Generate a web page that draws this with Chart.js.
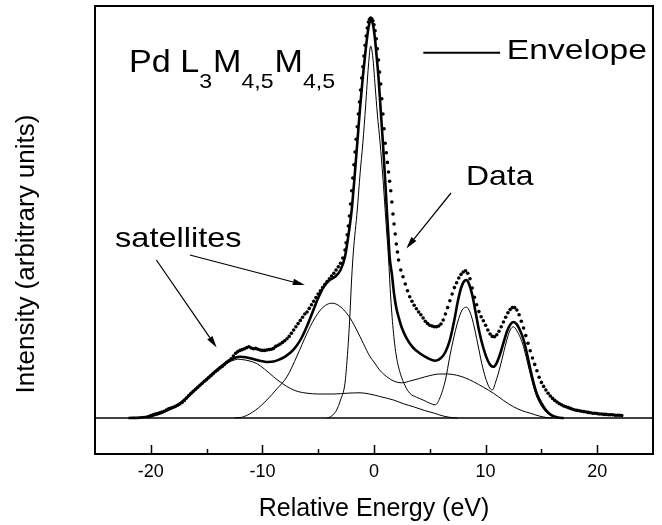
<!DOCTYPE html>
<html><head><meta charset="utf-8">
<script src="https://cdn.jsdelivr.net/npm/chart.js@4.4.1/dist/chart.umd.min.js"></script>
<style>html,body{margin:0;padding:0;background:#fff;}canvas{display:block;}</style>
</head><body>
<canvas id="c" width="662" height="525"></canvas>
<script>
// ---------- data ----------
const dataEnergy = [-20.2,-20.0,-19.8,-19.6,-19.4,-19.2,-19.0,-18.8,-18.6,-18.4,-18.2,-18.0,-17.8,-17.6,-17.4,-17.2,-17.0,-16.8,-16.6,-16.4,-16.2,-16.0,-15.8,-15.6,-15.4,-15.2,-15.0,-14.8,-14.6,-14.4,-14.2,-14.0,-13.8,-13.6,-13.4,-13.2,-13.0,-12.8,-12.6,-12.4,-12.2,-12.0,-11.8,-11.6,-11.4,-11.2,-11.0,-10.8,-10.6,-10.4,-10.2,-10.0,-9.8,-9.6,-9.4,-9.2,-9.0,-8.8,-8.6,-8.4,-8.2,-8.0,-7.8,-7.6,-7.4,-7.2,-7.0,-6.8,-6.6,-6.4,-6.2,-6.0,-5.8,-5.6,-5.4,-5.2,-5.0,-4.8,-4.6,-4.4,-4.2,-4.0,-3.8,-3.6,-3.4,-3.2,-3.0,-2.8,-2.6,-2.5,-2.4,-2.3,-2.2,-2.1,-2.0,-1.9,-1.8,-1.7,-1.6,-1.5,-1.4,-1.3,-1.2,-1.1,-1.0,-0.9,-0.8,-0.7,-0.6,-0.5,-0.4,-0.3,-0.2,-0.1,0.0,0.1,0.2,0.3,0.4,0.5,0.6,0.7,0.8,0.9,1.0,1.1,1.2,1.3,1.4,1.5,1.6,1.7,1.8,1.9,2.0,2.1,2.2,2.4,2.6,2.8,3.0,3.2,3.4,3.6,3.8,4.0,4.2,4.4,4.6,4.8,5.0,5.2,5.4,5.6,5.8,6.0,6.2,6.4,6.6,6.8,7.0,7.2,7.4,7.6,7.8,8.0,8.2,8.4,8.6,8.8,9.0,9.2,9.4,9.6,9.8,10.0,10.2,10.4,10.6,10.8,11.0,11.2,11.4,11.6,11.8,12.0,12.2,12.4,12.6,12.8,13.0,13.2,13.4,13.6,13.8,14.0,14.2,14.4,14.6,14.8,15.0,15.2,15.4,15.6,15.8,16.0,16.2,16.4,16.6,16.8,17.0,17.2,17.4,17.6,17.8,18.0,18.2,18.4,18.6,18.8,19.0,19.2,19.4,19.6,19.8,20.0,20.2,20.4,20.6,20.8,21.0,21.2,21.4,21.6,21.8,22.0,22.2];
const dataIntensity = [0.3,0.6,0.8,1.0,1.1,1.3,1.5,1.7,2.0,2.3,2.5,2.7,2.9,3.2,3.5,3.9,4.4,5.0,5.6,6.2,6.7,7.2,7.7,8.2,8.7,9.2,9.6,10.1,10.6,11.1,11.6,12.0,12.5,12.9,13.4,13.9,14.3,14.8,15.5,16.2,16.6,16.9,17.1,17.3,17.6,17.8,17.5,17.3,17.4,17.2,17.0,16.9,16.9,17.0,17.1,17.2,17.4,17.9,18.2,18.5,18.9,19.3,19.8,20.4,21.2,22.0,22.8,23.6,24.4,25.2,26.0,26.5,27.4,28.3,29.2,30.1,31.0,31.8,32.6,33.4,34.1,34.8,35.5,36.2,37.0,37.8,38.7,40.0,42.0,43.8,45.8,48.0,50.5,53.5,56.8,60.0,63.3,66.5,69.7,72.8,76.0,79.0,82.0,85.0,87.8,90.5,93.2,95.5,97.5,99.0,99.7,100.0,99.8,99.3,98.3,96.8,94.8,92.3,89.5,86.5,83.5,79.8,76.0,72.3,68.7,66.3,63.9,61.5,59.2,56.8,54.0,51.0,48.5,46.0,43.5,41.5,39.5,37.0,35.3,33.5,31.8,30.3,29.2,28.2,27.3,26.5,25.8,25.0,24.2,23.6,23.2,23.0,22.8,22.8,23.0,23.5,24.5,26.0,27.6,29.3,31.0,32.6,33.8,35.0,35.9,36.5,36.8,36.2,34.8,32.5,30.2,28.3,26.6,25.3,24.3,23.2,22.0,21.0,20.4,20.3,20.8,21.7,22.8,24.0,25.2,26.3,27.1,27.6,27.6,27.0,25.8,24.2,22.5,20.6,18.7,16.8,15.0,13.4,11.8,10.2,8.9,7.9,7.0,6.2,5.5,4.9,4.4,4.0,3.6,3.3,3.0,2.8,2.6,2.4,2.2,2.0,1.9,1.8,1.7,1.6,1.5,1.4,1.3,1.2,1.2,1.1,1.0,1.0,0.9,0.9,0.8,0.8,0.8,0.7,0.7,0.7,0.6];

const envelopeEnergy = [-22,-21,-20,-19.5,-19,-18.5,-18,-17.5,-17,-16.5,-16,-15.5,-15,-14.5,-14,-13.5,-13,-12.5,-12,-11.5,-11,-10.5,-10,-9.5,-9,-8.5,-8,-7.5,-7,-6.5,-6,-5.5,-5,-4.5,-4,-3.5,-3,-2.6,-2.3,-2,-1.75,-1.5,-1.25,-1,-0.75,-0.5,-0.3,-0.1,0.1,0.25,0.4,0.6,0.8,1.0,1.15,1.3,1.4,1.6,1.8,2.0,2.2,2.5,2.95,3.5,4.1,4.8,5.5,6.0,6.4,6.8,7.2,7.5,7.8,8.1,8.3,8.5,8.8,9.1,9.4,9.8,10.2,10.5,10.7,11.0,11.3,11.6,11.9,12.2,12.5,12.8,13.1,13.4,13.7,14.0,14.3,14.6,15.0,15.4,15.9,16.5,17];
const envelopeIntensity = [0,0.1,0.5,0.9,1.3,2.0,2.6,3.4,4.5,5.8,7.1,8.4,9.7,11.0,12.2,13.3,14.3,15.0,15.3,15.2,14.9,14.5,14.2,14.0,14.1,14.6,15.3,16.3,17.8,20.0,23.0,26.5,30.0,32.8,34.4,35.3,37.0,40.3,45.5,52,60,68.7,77.5,85.3,92,97.5,99.5,98.5,94.5,90,85.3,77,68.7,59.5,52,45,40.3,36,31,27.5,25.3,22.5,19.8,17.6,16.2,15.0,14.3,15.0,16.5,19.5,24.5,29.0,32.5,34.3,34.5,33.6,30.8,26.5,22.0,17.5,14.3,13.0,12.8,13.8,16.0,18.8,21.5,23.3,24.0,23.4,21.8,19.6,16.2,12.3,8.8,6.0,3.7,2.0,0.7,0.1,0];

const mainEnergy = [-4.2,-3.9,-3.6,-3.35,-3.0,-2.6,-2.4,-2.2,-2.0,-1.85,-1.5,-1.25,-1.0,-0.75,-0.5,-0.3,-0.1,0.1,0.3,0.55,0.8,1.0,1.15,1.3,1.5,1.75,2.0,2.35,2.8,3.2,3.8,4.4,5.0,5.5,5.9,6.4,6.8,7.1,7.5,7.9,8.3,8.6,8.9,9.3,9.65,10.0,10.3,10.6,10.9,11.3,11.6,11.9,12.2,12.5,12.8,13.1,13.4,13.7,14.0,14.3,14.6,15.0,15.4,15.9,16.5];
const mainIntensity = [0,0.3,1.0,2.0,4.5,8.7,15,23.5,35,41.5,52,61,68.7,78,88,93,90,83,76,68.7,60,52,46,40,30,21.2,15.5,11.2,8.0,6.2,5.2,4.5,3.7,3.3,5.0,9.5,15.5,19.5,24.0,27.0,27.7,26.5,23.7,18.5,13.7,10.0,7.8,7.0,9.0,12.8,16.2,19.5,22.0,22.8,21.8,20.2,17.8,14.5,11.0,7.8,5.2,3.0,1.5,0.5,0];

const satAEnergy = [-12.5,-11.7,-10.6,-9.6,-8.7,-7.8,-6.9,-6.0,-5.4,-4.8,-4.2,-3.75,-3.2,-2.7,-2.1,-1.55,-0.95,-0.35,0.0,0.5,1.15,1.8,2.5,3.3,4.1,5.0,5.9,6.6,7.4,8.2,8.9,9.8,10.7,11.6,12.5,13.3,14.0,14.8,15.5,16];
const satAIntensity = [0,0.3,2.0,4.5,7.3,10.3,15.5,21.2,24.5,27.0,28.4,28.7,28.2,27.0,24.8,22.0,18.6,15.3,14.0,12.0,10.3,9.2,8.8,9.3,9.9,10.6,11.0,11.0,10.7,10.0,9.1,7.7,6.2,4.4,2.8,1.8,1.2,0.5,0.1,0];

const satBEnergy = [-22,-21,-20,-19,-18.5,-18,-17.5,-17,-16.5,-16,-15.5,-15,-14.5,-14,-13.5,-13,-12.5,-12.2,-11.8,-11.2,-10.5,-9.8,-9.0,-8.2,-7.5,-6.8,-6.0,-5.0,-3.6,-2.4,-1.25,-0.4,0.5,1.2,1.75,2.6,3.55,4.5,5.4,6.2,7.1,7.5];
const satBIntensity = [0,0.1,0.5,1.3,2.0,2.6,3.4,4.5,5.8,7.1,8.4,9.7,11.0,12.2,13.2,14.0,14.5,14.7,14.6,14.3,13.6,12.2,10.3,8.6,7.4,6.6,6.2,6.0,6.0,6.2,6.3,6.0,5.4,4.9,4.5,3.6,2.8,1.9,1.2,0.5,0.05,0];

const xMajorTicks = [-20, -10, 0, 10, 20];
const xMinorTicks = [-15, -5, 5, 15];

const xTitle = 'Relative Energy (eV)';
const yTitle = 'Intensity (arbitrary units)';
const legendLabel = 'Envelope';

// annotation texts (positions in data units)
const plotTitleParts = [['Pd L', false], ['3', true], ['M', false], ['4,5', true], ['M', false], ['4,5', true]];
const plotTitleAt = {x: -21.95, y: 86.6, subDrop: 4.2};
const labelData = {text: 'Data', x: 8.25, y: 58.25};
const labelSat = {text: 'satellites', x: -23.2, y: 42.8};
const legendAt = {x1: 4.42, x2: 11.3, y: 91.3, tx: 11.9, ty: 89.7};
const arrows = [
  {from: [6.9, 56.25], to: [2.9, 42.4]},
  {from: [-16.5, 40.75], to: [-6.2, 33.25]},
  {from: [-19.5, 39.5], to: [-14.1, 17.6]}
];

// ---------- chart ----------
const FAMILY = "'Liberation Sans', Arial, Helvetica, sans-serif";
const pts = (xs, ys) => xs.map((x, i) => ({x: x, y: ys[i]}));

function stretchedText(ctx, text, px, py, size, sx) {
  ctx.save();
  ctx.font = size + 'px ' + FAMILY;
  ctx.textAlign = 'left';
  ctx.textBaseline = 'alphabetic';
  ctx.translate(px, py);
  ctx.scale(sx, 1);
  ctx.fillText(text, 0, 0);
  const w = ctx.measureText(text).width * sx;
  ctx.restore();
  return w;
}

const framePlugin = {
  id: 'frame',
  beforeDatasetsDraw(chart) {
    const {ctx, chartArea: a, scales: {x, y}} = chart;
    ctx.save();
    ctx.strokeStyle = '#000';
    ctx.lineWidth = 1.6;
    const y0 = y.getPixelForValue(0);
    ctx.beginPath(); ctx.moveTo(a.left, y0); ctx.lineTo(a.right, y0); ctx.stroke();
    ctx.restore();
  },
  afterDatasetsDraw(chart) {
    const {ctx, chartArea: a, scales: {x, y}} = chart;
    ctx.save();
    ctx.strokeStyle = '#000';
    ctx.fillStyle = '#000';
    // frame
    ctx.lineWidth = 2;
    ctx.strokeRect(a.left, a.top, a.right - a.left, a.bottom - a.top);
    // ticks (inward)
    ctx.lineWidth = 1.5;
    xMajorTicks.forEach(v => {
      const px = Math.round(x.getPixelForValue(v)) + 0.5;
      ctx.beginPath(); ctx.moveTo(px, a.bottom); ctx.lineTo(px, a.bottom - 9); ctx.stroke();
    });
    xMinorTicks.forEach(v => {
      const px = Math.round(x.getPixelForValue(v)) + 0.5;
      ctx.beginPath(); ctx.moveTo(px, a.bottom); ctx.lineTo(px, a.bottom - 5); ctx.stroke();
    });
    // arrows
    ctx.lineWidth = 1.2;
    arrows.forEach(ar => {
      const x1 = x.getPixelForValue(ar.from[0]), y1 = y.getPixelForValue(ar.from[1]);
      const x2 = x.getPixelForValue(ar.to[0]), y2 = y.getPixelForValue(ar.to[1]);
      const ang = Math.atan2(y2 - y1, x2 - x1);
      const L = 12, W = 3.2;
      const bx = x2 - L * Math.cos(ang), by = y2 - L * Math.sin(ang);
      ctx.beginPath(); ctx.moveTo(x1, y1); ctx.lineTo(bx, by); ctx.stroke();
      ctx.beginPath();
      ctx.moveTo(x2, y2);
      ctx.lineTo(bx + W * Math.sin(ang), by - W * Math.cos(ang));
      ctx.lineTo(bx - W * Math.sin(ang), by + W * Math.cos(ang));
      ctx.closePath(); ctx.fill();
    });
    // legend
    ctx.lineWidth = 2;
    const ly = y.getPixelForValue(legendAt.y);
    ctx.beginPath(); ctx.moveTo(x.getPixelForValue(legendAt.x1), ly); ctx.lineTo(x.getPixelForValue(legendAt.x2), ly); ctx.stroke();
    stretchedText(ctx, legendLabel, x.getPixelForValue(legendAt.tx), y.getPixelForValue(legendAt.ty), 28, 1.2);
    // labels
    stretchedText(ctx, labelData.text, x.getPixelForValue(labelData.x), y.getPixelForValue(labelData.y), 28, 1.14);
    stretchedText(ctx, labelSat.text, x.getPixelForValue(labelSat.x), y.getPixelForValue(labelSat.y), 28, 1.16);
    // plot title with subscripts
    let px = x.getPixelForValue(plotTitleAt.x);
    const base = y.getPixelForValue(plotTitleAt.y);
    const subBase = y.getPixelForValue(plotTitleAt.y - plotTitleAt.subDrop);
    plotTitleParts.forEach(([t, sub]) => {
      px += stretchedText(ctx, t, px, sub ? subBase : base, sub ? 21 : 31, 1.1) + (sub ? 1 : 0);
    });
    // y axis title
    ctx.font = '26px ' + FAMILY;
    ctx.textAlign = 'center';
    ctx.textBaseline = 'alphabetic';
    ctx.translate(33.5, (a.top + a.bottom) / 2 + 24);
    ctx.rotate(-Math.PI / 2);
    ctx.fillText(yTitle, 0, 0);
    ctx.restore();
  }
};

new Chart(document.getElementById('c').getContext('2d'), {
  type: 'scatter',
  data: {
    datasets: [
      {label: 'Data', data: pts(dataEnergy, dataIntensity), showLine: false,
       pointRadius: 1.8, pointBorderWidth: 0, pointBackgroundColor: '#000', backgroundColor: '#000', order: 1},
      {label: legendLabel, data: pts(envelopeEnergy, envelopeIntensity), showLine: true,
       borderColor: '#000', borderWidth: 2.6, pointRadius: 0, cubicInterpolationMode: 'monotone', order: 2},
      {label: 'Main lines', data: pts(mainEnergy, mainIntensity), showLine: true,
       borderColor: '#000', borderWidth: 1, pointRadius: 0, cubicInterpolationMode: 'monotone', order: 3},
      {label: 'Satellite (-4 eV)', data: pts(satAEnergy, satAIntensity), showLine: true,
       borderColor: '#000', borderWidth: 1, pointRadius: 0, cubicInterpolationMode: 'monotone', order: 3},
      {label: 'Satellite (-12 eV)', data: pts(satBEnergy, satBIntensity), showLine: true,
       borderColor: '#000', borderWidth: 1, pointRadius: 0, cubicInterpolationMode: 'monotone', order: 3}
    ]
  },
  options: {
    responsive: false, animation: false, devicePixelRatio: 1,
    layout: {padding: {left: 0, right: 9, top: 6, bottom: 0}},
    plugins: {legend: {display: false}, tooltip: {enabled: false}},
    scales: {
      x: {
        type: 'linear', min: -25, max: 25,
        afterBuildTicks: s => { s.ticks = xMajorTicks.map(v => ({value: v})); },
        afterFit: s => { s.height = 71; },
        grid: {display: false, drawTicks: false}, border: {display: false},
        ticks: {color: '#000', font: {size: 18, family: FAMILY}, padding: 7, maxRotation: 0, autoSkip: false},
        title: {display: true, text: xTitle, color: '#000', font: {size: 25, family: FAMILY}, padding: {top: 0, bottom: 1}}
      },
      y: {
        type: 'linear', min: -9, max: 103,
        afterFit: s => { s.width = 95; },
        grid: {display: false, drawTicks: false}, border: {display: false},
        ticks: {display: false}
      }
    }
  },
  plugins: [framePlugin]
});
</script>
</body></html>
